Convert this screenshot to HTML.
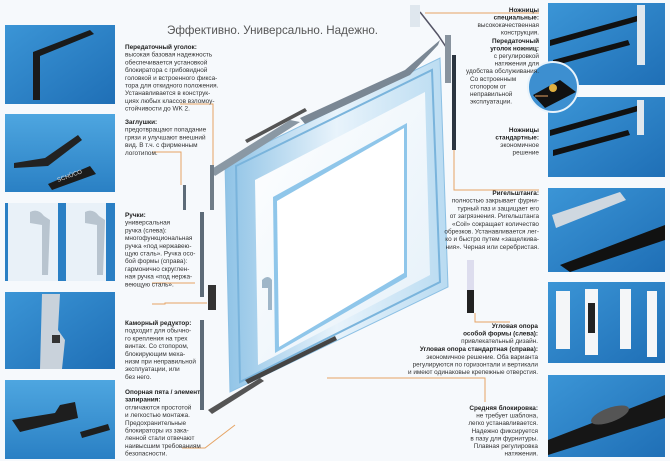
<!DOCTYPE html>
<html><head><meta charset="utf-8"><style>
html,body{margin:0;padding:0;background:#f6f9fc;}
svg{display:block;font-family:"Liberation Sans",sans-serif;}
.t{font-size:6.4px;fill:#333;}
.b{font-weight:bold;fill:#222;}
</style></head><body>
<svg width="670" height="461" viewBox="0 0 670 461" xmlns="http://www.w3.org/2000/svg">
<defs>
<linearGradient id="bl" x1="0" y1="0" x2="1" y2="1"><stop offset="0" stop-color="#3b95d6"/><stop offset="1" stop-color="#1f6fb6"/></linearGradient>
<linearGradient id="bl2" x1="0" y1="0" x2="0" y2="1"><stop offset="0" stop-color="#4ea6e0"/><stop offset="1" stop-color="#2a80c4"/></linearGradient>
<linearGradient id="fr" x1="0" y1="0" x2="1" y2="0"><stop offset="0" stop-color="#8fc3e6"/><stop offset="0.5" stop-color="#e8f3fb"/><stop offset="1" stop-color="#b9dbf1"/></linearGradient>
<linearGradient id="wh" x1="0" y1="0" x2="1" y2="1"><stop offset="0" stop-color="#ffffff"/><stop offset="1" stop-color="#e4f0f9"/></linearGradient>
</defs>
<rect width="670" height="461" fill="#f6f9fc"/>

<!-- left photos -->
<rect x="5" y="25" width="110" height="79" fill="url(#bl)"/>
<path d="M33 100 L33 52 L90 30 L94 34 L40 56 L40 100Z" fill="#1a1a1a"/>
<rect x="5" y="114" width="110" height="78" fill="url(#bl2)"/>
<path d="M14 163 L45 158 L78 135 L82 140 L48 166 L14 168Z" fill="#222"/>
<path d="M48 184 L90 166 L96 174 L52 190Z" fill="#1b1b1b"/>
<text x="58" y="182" font-size="6" fill="#ddd" transform="rotate(-20 58 182)">SCHÜCO</text>
<rect x="5" y="203" width="110" height="78" fill="#e9f1f8"/>
<rect x="5" y="203" width="3" height="78" fill="#2a7fc4"/>
<rect x="58" y="203" width="8" height="78" fill="#2a7fc4"/>
<rect x="106" y="203" width="9" height="78" fill="#2a7fc4"/>
<path d="M30 212 q8 -4 14 4 l6 4 l-2 55 l-6 0 l0 -50 l-12 -2z" fill="#b8c4cf"/>
<path d="M85 212 q8 -4 14 4 l6 4 l-2 55 l-6 0 l0 -50 l-12 -2z" fill="#b8c4cf"/>
<rect x="5" y="292" width="110" height="77" fill="url(#bl)"/>
<path d="M42 294 L60 294 L58 330 L65 340 L62 369 L40 369Z" fill="#c9d2db"/>
<rect x="52" y="335" width="8" height="8" fill="#333"/>
<rect x="5" y="380" width="110" height="79" fill="url(#bl2)"/>
<path d="M12 420 L55 413 L60 405 L75 402 L78 418 L20 432Z" fill="#1e1e1e"/>
<path d="M80 432 L108 424 L110 430 L82 438Z" fill="#1e1e1e"/>

<!-- right photos -->
<rect x="548" y="3" width="117" height="82" fill="url(#bl)"/>
<path d="M550 40 L640 15 L642 20 L550 46Z M553 60 L628 40 L630 45 L553 66Z" fill="#111"/>
<rect x="637" y="5" width="8" height="60" fill="#dfe7ee"/>
<rect x="548" y="97" width="117" height="80" fill="url(#bl)"/>
<path d="M550 130 L640 105 L642 110 L550 136Z M553 150 L628 130 L630 135 L553 156Z" fill="#111"/>
<rect x="637" y="100" width="7" height="35" fill="#dfe7ee"/>
<rect x="548" y="188" width="117" height="84" fill="url(#bl)"/>
<path d="M552 215 L620 192 L626 200 L556 228Z" fill="#cfd8e0"/>
<path d="M560 265 L665 225 L665 240 L570 272Z" fill="#111"/>
<rect x="548" y="282" width="117" height="81" fill="url(#bl)"/>
<rect x="556" y="291" width="14" height="58" fill="#f4f6f8"/>
<rect x="585" y="289" width="13" height="66" fill="#f4f6f8"/><rect x="588" y="303" width="7" height="30" fill="#222"/>
<rect x="620" y="289" width="11" height="60" fill="#f4f6f8"/>
<rect x="647" y="291" width="10" height="66" fill="#f4f6f8"/>
<rect x="548" y="375" width="117" height="82" fill="url(#bl)"/>
<path d="M548 440 L665 395 L665 418 L548 455Z" fill="#161616"/>
<ellipse cx="610" cy="415" rx="20" ry="7" fill="#555" transform="rotate(-20 610 415)"/>
<circle cx="553" cy="87" r="25" fill="#3d8fd0" stroke="#e8f3fb" stroke-width="2"/>
<path d="M533 95 L560 80 L576 92 L545 108Z" fill="#111"/>
<circle cx="553" cy="88" r="4" fill="#e0b040"/>

<!-- window -->
<polygon points="225,163 440,58 448,287 230,392" fill="url(#fr)" stroke="#8cc0e4" stroke-width="1"/>
<polygon points="236,166 432,70 440,282 240,382" fill="none" stroke="#7ab4dc" stroke-width="2"/>
<polygon points="255,180 425,92 430,275 258,365" fill="url(#wh)"/>
<polygon points="273,197 407,123 407,277 275,353" fill="#8fc6ea"/>
<polygon points="277,201 404,128 404,273 279,347" fill="#ffffff"/>
<path d="M262 280 q6 -6 10 0 l0 30 l-4 0 l0 -22 l-6 0z" fill="#9fb6c8"/>
<!-- hardware strips -->
<path d="M245 140 L305 108 L307 111 L247 143Z" fill="#555"/>
<path d="M210 170 L290 120 L300 122 L215 176Z" fill="#8a98a4"/>
<path d="M300 118 L405 70 L440 40 L438 45 L410 75 L305 124Z" fill="#7a8794"/>
<path d="M420 12 L438 35 L448 50" stroke="#556" stroke-width="1.5" fill="none"/>
<rect x="210" y="165" width="4" height="45" fill="#6f7c88"/>
<rect x="200" y="212" width="4" height="85" fill="#5d6b78"/>
<rect x="183" y="185" width="3" height="25" fill="#5d6b78"/>
<rect x="200" y="320" width="4" height="90" fill="#5d6b78"/>
<path d="M208 285 l8 0 l0 25 l-8 0z" fill="#333"/>
<path d="M208 410 L260 378 L264 381 L212 414Z" fill="#555"/>
<path d="M245 380 L335 336 L337 340 L248 384Z" fill="#444"/>
<rect x="452" y="55" width="4" height="95" fill="#2b3540"/>
<rect x="445" y="35" width="6" height="48" fill="#88939e"/>
<rect x="467" y="260" width="7" height="30" fill="#dde"/>
<rect x="467" y="290" width="7" height="23" fill="#222"/>
<rect x="410" y="5" width="10" height="22" fill="#dfe7ee"/>

<!-- connector lines -->
<g stroke="#e6a464" stroke-width="1" fill="none">
<polyline points="180,104 213,104 213,165"/>
<polyline points="152,152 181,152 181,185"/>
<polyline points="152,283 195,283"/>
<polyline points="152,304 165,304 165,303 207,303"/>
<polyline points="182,448 205,448 235,425"/>
<polyline points="425,13 539,13"/>
<polyline points="454,150 454,190 539,190"/>
<polyline points="475,313 475,322 510,322"/>
<polyline points="327,378 485,378 485,402"/>
<polyline points="535,96 548,96"/>
</g>

<text x="167" y="34" font-size="11.6" fill="#555">Эффективно. Универсально. Надежно.</text>

<g class="t">
<text x="125" y="49"><tspan class="b">Передаточный уголок:</tspan><tspan x="125" dy="7.7">высокая базовая надежность</tspan><tspan x="125" dy="7.7">обеспечивается установкой</tspan><tspan x="125" dy="7.7">блокиратора с грибовидной</tspan><tspan x="125" dy="7.7">головкой и встроенного фикса-</tspan><tspan x="125" dy="7.7">тора для откидного положения.</tspan><tspan x="125" dy="7.7">Устанавливается в конструк-</tspan><tspan x="125" dy="7.7">циях любых классов взломоу-</tspan><tspan x="125" dy="7.7">стойчивости до WK 2.</tspan></text>
<text x="125" y="124"><tspan class="b">Заглушки:</tspan><tspan x="125" dy="7.7">предотвращают попадание</tspan><tspan x="125" dy="7.7">грязи и улучшают внешний</tspan><tspan x="125" dy="7.7">вид. В т.ч. с фирменным</tspan><tspan x="125" dy="7.7">логотипом.</tspan></text>
<text x="125" y="217"><tspan class="b">Ручки:</tspan><tspan x="125" dy="7.7">универсальная</tspan><tspan x="125" dy="7.7">ручка (слева):</tspan><tspan x="125" dy="7.7">многофункциональная</tspan><tspan x="125" dy="7.7">ручка «под нержавею-</tspan><tspan x="125" dy="7.7">щую сталь». Ручка осо-</tspan><tspan x="125" dy="7.7">бой формы (справа):</tspan><tspan x="125" dy="7.7">гармонично скруглен-</tspan><tspan x="125" dy="7.7">ная ручка «под нержа-</tspan><tspan x="125" dy="7.7">веющую сталь».</tspan></text>
<text x="125" y="325"><tspan class="b">Каморный редуктор:</tspan><tspan x="125" dy="7.7">подходит для обычно-</tspan><tspan x="125" dy="7.7">го крепления на трех</tspan><tspan x="125" dy="7.7">винтах. Со стопором,</tspan><tspan x="125" dy="7.7">блокирующим меха-</tspan><tspan x="125" dy="7.7">низм при неправильной</tspan><tspan x="125" dy="7.7">эксплуатации, или</tspan><tspan x="125" dy="7.7">без него.</tspan></text>
<text x="125" y="394"><tspan class="b">Опорная пята / элемент</tspan><tspan x="125" dy="7.7" class="b">запирания:</tspan><tspan x="125" dy="7.7">отличаются простотой</tspan><tspan x="125" dy="7.7">и легкостью монтажа.</tspan><tspan x="125" dy="7.7">Предохранительные</tspan><tspan x="125" dy="7.7">блокираторы из зака-</tspan><tspan x="125" dy="7.7">ленной стали отвечают</tspan><tspan x="125" dy="7.7">наивысшим требованиям</tspan><tspan x="125" dy="7.7">безопасности.</tspan></text>
</g>

<g class="t" text-anchor="end">
<text x="539" y="12"><tspan class="b">Ножницы</tspan><tspan x="539" dy="7.5" class="b">специальные:</tspan><tspan x="539" dy="7.5">высококачественная</tspan><tspan x="539" dy="7.5">конструкция.</tspan><tspan x="539" dy="8.5" class="b">Передаточный</tspan><tspan x="539" dy="7.5" class="b">уголок ножниц:</tspan><tspan x="539" dy="7.5">с регулировкой</tspan><tspan x="539" dy="7.5">натяжения для</tspan><tspan x="539" dy="7.5">удобства обслуживания.</tspan></text>
<text x="539" y="132"><tspan class="b">Ножницы</tspan><tspan x="539" dy="7.5" class="b">стандартные:</tspan><tspan x="539" dy="7.5">экономичное</tspan><tspan x="539" dy="7.5">решение</tspan></text>
<text x="539" y="195"><tspan class="b">Ригельштанга:</tspan><tspan x="539" dy="7.7">полностью закрывает фурни-</tspan><tspan x="539" dy="7.7">турный паз и защищает его</tspan><tspan x="539" dy="7.7">от загрязнения. Ригельштанга</tspan><tspan x="539" dy="7.7">«Coil» сокращает количество</tspan><tspan x="539" dy="7.7">обрезков. Устанавливается лег-</tspan><tspan x="539" dy="7.7">ко и быстро путем «защелкива-</tspan><tspan x="539" dy="7.7">ния». Черная или серебристая.</tspan></text>
<text x="538" y="328"><tspan class="b">Угловая опора</tspan><tspan x="538" dy="7.6" class="b">особой формы (слева):</tspan><tspan x="538" dy="7.6">привлекательный дизайн.</tspan><tspan x="538" dy="8" class="b">Угловая опора стандартная (справа):</tspan><tspan x="538" dy="7.6">экономичное решение. Оба варианта</tspan><tspan x="538" dy="7.6">регулируются по горизонтали и вертикали</tspan><tspan x="538" dy="7.6">и имеют одинаковые крепежные отверстия.</tspan></text>
<text x="538" y="410"><tspan class="b">Средняя блокировка:</tspan><tspan x="538" dy="7.6">не требует шаблона,</tspan><tspan x="538" dy="7.6">легко устанавливается.</tspan><tspan x="538" dy="7.6">Надежно фиксируется</tspan><tspan x="538" dy="7.6">в пазу для фурнитуры.</tspan><tspan x="538" dy="7.6">Плавная регулировка</tspan><tspan x="538" dy="7.6">натяжения.</tspan></text>
</g>
<g class="t">
<text x="470" y="81">Со встроенным<tspan x="470" dy="7.5">стопором от</tspan><tspan x="470" dy="7.5">неправильной</tspan><tspan x="470" dy="7.5">эксплуатации.</tspan></text>
</g>
</svg>
</body></html>
